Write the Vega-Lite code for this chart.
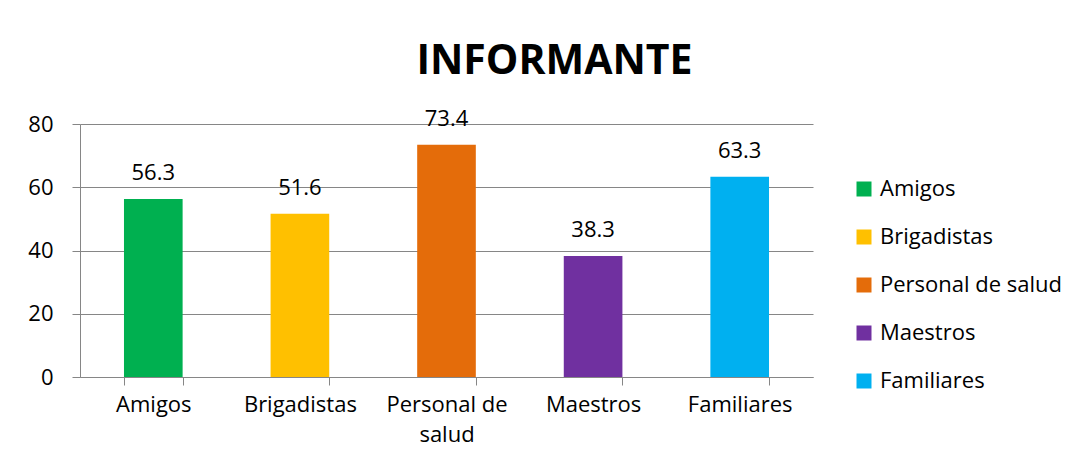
{
  "$schema": "https://vega.github.io/schema/vega-lite/v6.json",
  "autosize": "none",
  "width": 733,
  "height": 253,
  "padding": {"left": 80, "top": 124, "right": 275, "bottom": 93},
  "background": "white",
  "config": {
    "font": "Open Sans",
    "view": {"stroke": null},
    "axis": {"labelFont": "Open Sans", "labelColor": "black", "labelFontSize": 22}
  },
  "title": {
    "text": "INFORMANTE",
    "font": "Open Sans",
    "fontSize": 41,
    "fontWeight": "bold",
    "color": "black",
    "anchor": "middle",
    "dx": 108,
    "dy": 53,
    "baseline": "bottom",
    "offset": 37
  },
  "data": {
    "values": [
      {"informante": "Amigos", "valor": 56.3},
      {"informante": "Brigadistas", "valor": 51.6},
      {"informante": "Personal de salud", "valor": 73.4},
      {"informante": "Maestros", "valor": 38.3},
      {"informante": "Familiares", "valor": 63.3}
    ]
  },
  "encoding": {
    "x": {
      "field": "informante",
      "type": "nominal",
      "sort": null,
      "scale": {"paddingInner": 0.6, "paddingOuter": 0.3},
      "axis": {
        "title": null,
        "labelAngle": 0,
        "tickBand": "extent",
        "domainColor": "#868686",
        "tickColor": "#868686",
        "tickSize": 8,
        "labelPadding": 9,
        "labelExpr": "datum.label == 'Personal de salud' ? ['Personal de', 'salud'] : datum.label",
        "labelLineHeight": 30
      }
    },
    "y": {
      "field": "valor",
      "type": "quantitative",
      "scale": {"domain": [0, 80]},
      "axis": {
        "title": null,
        "values": [0, 20, 40, 60, 80],
        "grid": true,
        "gridColor": "#868686",
        "domainColor": "#868686",
        "tickColor": "#868686",
        "tickSize": 8,
        "labelPadding": 19
      }
    }
  },
  "layer": [
    {
      "mark": {"type": "bar"},
      "encoding": {
        "color": {
          "field": "informante",
          "type": "nominal",
          "sort": null,
          "scale": {
            "domain": ["Amigos", "Brigadistas", "Personal de salud", "Maestros", "Familiares"],
            "range": ["#00B050", "#FFC000", "#E46C0A", "#7030A0", "#00B0F0"]
          },
          "legend": {
            "title": null,
            "orient": "none",
            "legendX": 773,
            "legendY": 54,
            "symbolType": "square",
            "symbolSize": 225,
            "symbolStrokeWidth": 0,
            "labelFont": "Open Sans",
            "labelFontSize": 22,
            "labelColor": "black",
            "labelOffset": 5,
            "rowPadding": 26,
            "labelLimit": 300
          }
        }
      }
    },
    {
      "mark": {"type": "text", "baseline": "alphabetic", "dy": -19, "fontSize": 22, "font": "Open Sans", "color": "black"},
      "encoding": {
        "text": {"field": "valor", "type": "quantitative", "format": ".1f"}
      }
    }
  ]
}
